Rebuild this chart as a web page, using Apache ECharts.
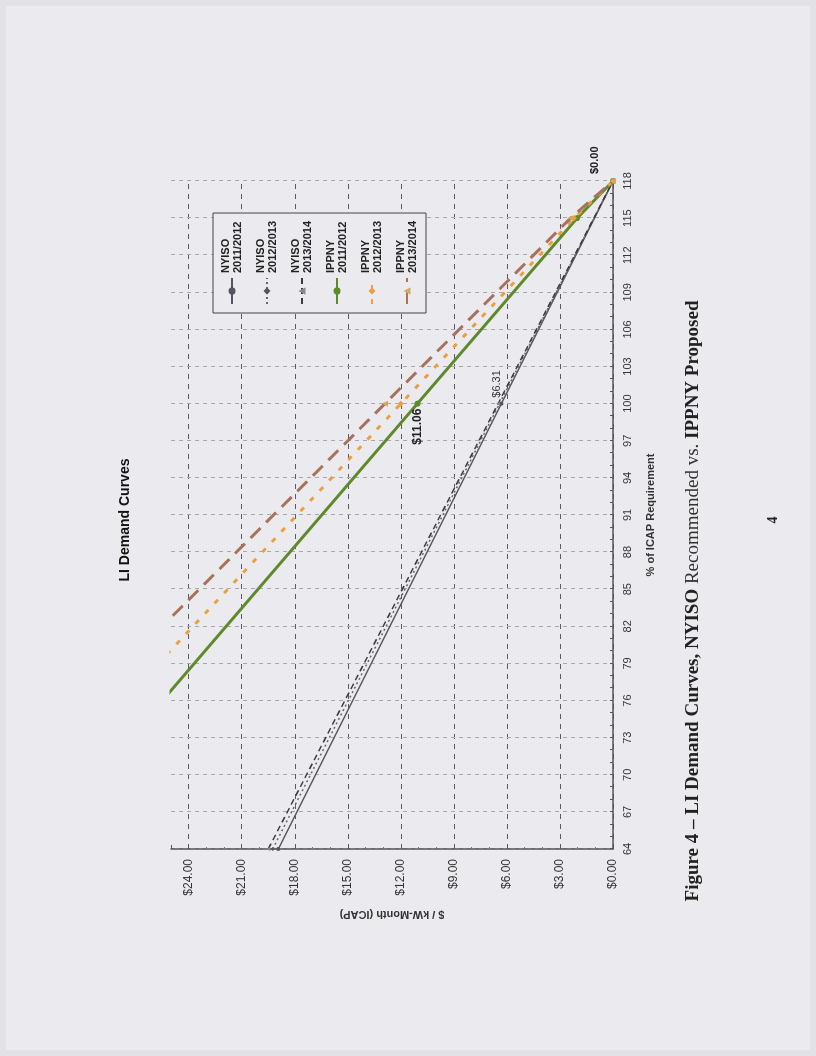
<!DOCTYPE html>
<html><head><meta charset="utf-8">
<script src="https://cdn.jsdelivr.net/npm/echarts@6/dist/echarts.min.js"></script>
<style>
html,body{margin:0;padding:0;width:816px;height:1056px;overflow:hidden;background:#e2e2e6;}
#sheet{position:absolute;left:6px;top:6px;width:804px;height:1044px;background:#ebebef;}
#chart{position:absolute;left:-120px;top:120px;width:1056px;height:816px;transform:rotate(-90deg);transform-origin:50% 50%;}
</style></head><body><div id="sheet"></div><div id="chart"></div>
<script>
// % of ICAP Requirement categories (axis)
const pctCategories = ['64','65','66','67','68','69','70','71','72','73','74','75','76','77','78','79','80','81','82','83','84','85','86','87','88','89','90','91','92','93','94','95','96','97','98','99','100','101','102','103','104','105','106','107','108','109','110','111','112','113','114','115','116','117','118'];
// series names
const seriesNames = ['NYISO 2011/2012','NYISO 2012/2013','NYISO 2013/2014','IPPNY 2011/2012','IPPNY 2012/2013','IPPNY 2013/2014'];
// NYISO curves ($/kW-month)
const nyisoX = ['64','100','118'];
const nyiso1112 = [18.93, 6.31, 0];
const nyiso1213 = [19.25, 6.42, 0];
const nyiso1314 = [19.50, 6.50, 0];
// IPPNY proposed curves
const ippnyX = ['64','100','115','118'];
const ippny1112 = [32.7, 11.06, 2.03, 0];
const ippny1213 = [35.5, 12.00, 2.20, 0];
const ippny1314 = [38.1, 12.90, 2.40, 0];

const chart = echarts.init(document.getElementById('chart'), null, {renderer:'canvas'});

function zip(xs, ys){ return xs.map((x,i)=>[x, ys[i]]); }
function money(v){ return '$' + v.toFixed(2); }

function withLabel(data, xKey, labelCfg){
  return data.map(d => d[0] === xKey ? {value: d, label: labelCfg} : d);
}

const nyA = withLabel(zip(nyisoX, nyiso1112), '100', {show:true, position:'right', distance:4, offset:[0,-4], formatter:p=>money(p.value[1]), fontSize:11, color:'#333', fontFamily:'Liberation Sans'});
const ipA = withLabel(zip(ippnyX, ippny1112), '100', {show:true, position:'left', distance:2, formatter:p=>money(p.value[1]), fontSize:12, fontWeight:'bold', color:'#222', fontFamily:'Liberation Sans'});
const ipC = withLabel(zip(ippnyX, ippny1314), '118', {show:true, position:'right', distance:4, offset:[0,-18], formatter:p=>money(p.value[1]), fontSize:11, fontWeight:'bold', color:'#222', fontFamily:'Liberation Sans'});

const baseFont = 'Liberation Sans';

chart.setOption({
  animation:false,
  textStyle:{fontFamily:baseFont},
  grid:{left:207, right:181, top:171, bottom:203, containLabel:false},
  legend:{
    orient:'vertical', left:743, top:213,
    data: seriesNames,
    formatter: n => n.replace(' ', '\n'),
    itemWidth:26, itemHeight:9, itemGap:11,
    padding:[7,8,7,8],
    backgroundColor:'#ebebef',
    borderColor:'#444', borderWidth:1,
    textStyle:{fontSize:11, fontWeight:'bold', color:'#222', lineHeight:12, fontFamily:baseFont}
  },
  xAxis:{
    type:'category', data:pctCategories, boundaryGap:false,
    name:'% of ICAP Requirement', nameLocation:'middle', nameGap:32,
    nameTextStyle:{fontSize:11, fontWeight:'bold', color:'#333'},
    axisLine:{lineStyle:{color:'#555', width:1.5}},
    axisTick:{show:true, interval:0, inside:true, length:3, lineStyle:{color:'#555'}},
    axisLabel:{interval:2, fontSize:11, color:'#333', margin:9},
    splitLine:{show:true, interval:2, lineStyle:{type:[4,4], color:'#a8a8ae', width:1}}
  },
  yAxis:{
    type:'value', min:0, max:25, interval:3,
    name:'$ / kW-Month (ICAP)', nameLocation:'middle', nameGap:60, nameRotate:90,
    nameTextStyle:{fontSize:11, fontWeight:'bold', color:'#333'},
    axisLine:{show:true, lineStyle:{color:'#555', width:1.5}},
    axisTick:{show:true, inside:true, length:4, lineStyle:{color:'#555'}},
    minorTick:{show:true, splitNumber:3, length:2, lineStyle:{color:'#777'}},
    axisLabel:{formatter:v=>money(v), showMaxLabel:false, fontSize:12, color:'#333', margin:10},
    splitLine:{show:true, showMaxLine:false, lineStyle:{type:[5,5], color:'#5a5a60', width:1}}
  },
  series:[
    {name:seriesNames[0], type:'line', data:nyA, symbol:'circle', symbolSize:4, showSymbol:true,
      itemStyle:{color:'#55555f'}, lineStyle:{color:'#55555f', width:1.5}},
    {name:seriesNames[1], type:'line', data:zip(nyisoX, nyiso1213), symbol:'diamond', symbolSize:4,
      itemStyle:{color:'#55555f'}, lineStyle:{color:'#66666e', width:1.5, type:[2,3]}},
    {name:seriesNames[2], type:'line', data:zip(nyisoX, nyiso1314), symbol:'triangle', symbolSize:4,
      itemStyle:{color:'#88888f'}, lineStyle:{color:'#3a3a40', width:1.5, type:[6,4]}},
    {name:seriesNames[3], type:'line', data:ipA, symbol:'circle', symbolSize:6,
      itemStyle:{color:'#5f8a2c'}, lineStyle:{color:'#5f8a2c', width:3}},
    {name:seriesNames[4], type:'line', data:zip(ippnyX, ippny1213), symbol:'diamond', symbolSize:6,
      itemStyle:{color:'#eaa03e'}, lineStyle:{color:'#eaa03e', width:3, type:[5,9]}},
    {name:seriesNames[5], type:'line', data:ipC, symbol:'triangle', symbolSize:6,
      itemStyle:{color:'#d7a85c'}, lineStyle:{color:'#a8725e', width:3, type:[14,8]}}
  ],
  graphic:[
    {type:'text', x:536, y:125, style:{text:'LI Demand Curves', align:'center', verticalAlign:'middle', font:'bold 14px "Liberation Sans"', fill:'#111'}},
    {type:'text', x:455, y:693, style:{
      text:'{b|Figure 4 – LI Demand Curves, NYISO }{r|Recommended vs. }{b|IPPNY Proposed}',
      align:'center', verticalAlign:'middle',
      rich:{
        b:{fontFamily:'Liberation Serif', fontWeight:'bold', fontSize:19, fill:'#222', color:'#222'},
        r:{fontFamily:'Liberation Serif', fontWeight:'normal', fontSize:19, fill:'#333', color:'#333'}
      }}},
    {type:'text', x:536, y:773, style:{text:'4', align:'center', verticalAlign:'middle', font:'bold 14px "Liberation Serif"', fill:'#222'}}
  ]
});
</script></body></html>
